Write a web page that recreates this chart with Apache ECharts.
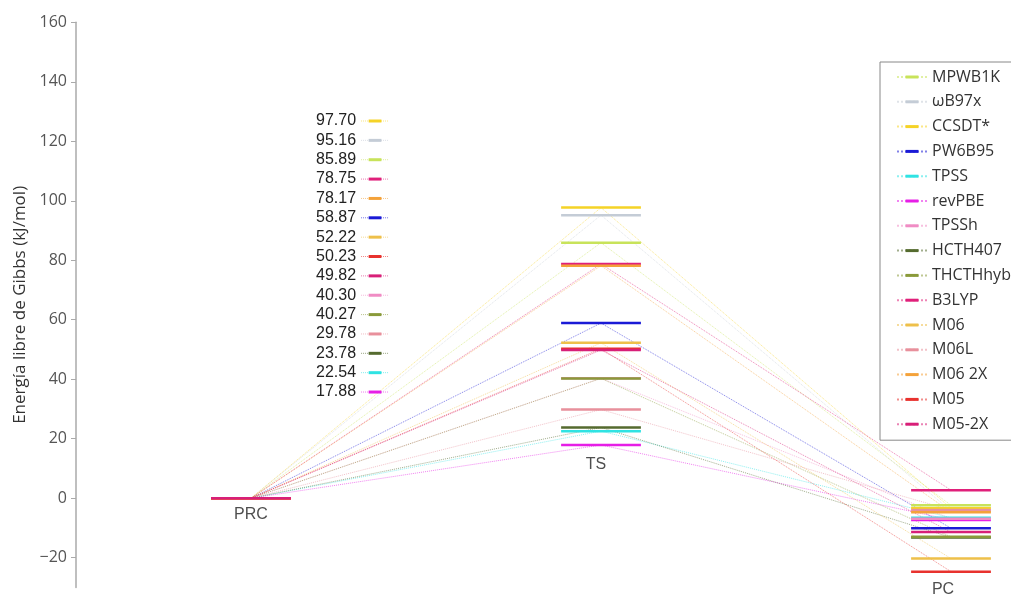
<!DOCTYPE html>
<html><head><meta charset="utf-8">
<script src="https://cdn.jsdelivr.net/npm/echarts@6/dist/echarts.min.js"></script>
<style>html,body{margin:0;padding:0;background:#fff}#c{width:1011px;height:594px}</style>
</head><body><div id="c"></div>
<script>
const states = ['PRC', 'TS', 'PC'];
const methods = ['MPWB1K', 'ωB97x', 'CCSDT*', 'PW6B95', 'TPSS', 'revPBE', 'TPSSh', 'HCTH407', 'THCTHhyb', 'B3LYP', 'M06', 'M06L', 'M06 2X', 'M05', 'M05-2X'];
const colors = ['#c8e35a', '#c4ccd6', '#f5d327', '#1a1ad6', '#2fe3e3', '#e61ee6', '#f08cc4', '#556b2f', '#8a9a3a', '#e0207a', '#eec04a', '#e8909c', '#f4a23a', '#e8322e', '#d81f78'];
const prcValues = [0, 0, 0, 0, 0, 0, 0, 0, 0, 0, 0, 0, 0, 0, 0];
const tsValues = [85.89, 95.16, 97.70, 58.87, 22.54, 17.88, 40.30, 23.78, 40.27, 78.75, 52.22, 29.78, 78.17, 50.23, 49.82];
const pcValues = [-2.4, -4.3, -3.4, -10.1, -6.6, -7.3, -6.9, -13.2, -13.0, 2.7, -20.3, -4.0, -4.7, -24.7, -11.4];
const yTicks = [-20, 0, 20, 40, 60, 80, 100, 120, 140, 160];
const yAxisName = 'Energía libre de Gibbs (kJ/mol)';

const half = 0.114;
const barIcon = 'path://M0,0M12,12M0,4.6H12V7.4H0Z';
const series = [];
methods.forEach((m, i) => {
  series.push({
    name: m, type: 'line', z: 1, silent: true,
    data: [[0, prcValues[i]], [1, tsValues[i]], [2, pcValues[i]]],
    lineStyle: { color: colors[i], width: 1, type: 'dotted', opacity: 0.55 },
    itemStyle: { color: colors[i] },
    symbol: barIcon, showSymbol: false
  });
});
methods.forEach((m, i) => {
  const lv = [prcValues[i], tsValues[i], pcValues[i]];
  const d = [];
  lv.forEach((v, k) => {
    if (k > 0) d.push([k - 0.5, null]);
    d.push([k - half, v], [k + half, v]);
  });
  series.push({
    name: tsValues[i].toFixed(2), type: 'line', z: 2, silent: true,
    data: d, connectNulls: false,
    lineStyle: { color: colors[i], width: 2.5 },
    itemStyle: { color: colors[i] },
    symbol: barIcon, showSymbol: false
  });
});
const levelMins = [Math.min(...prcValues), Math.min(...tsValues), Math.min(...pcValues)];
const labelOffsets = [[0, 2], [-5, 6], [-8, 4]];
series.push({
  type: 'scatter', symbolSize: 0, silent: true, z: 3,
  data: levelMins.map((v, k) => ({ value: [k, v], label: { offset: labelOffsets[k] } })),
  label: {
    show: true, position: 'bottom', distance: 6,
    formatter: p => states[p.dataIndex],
    fontSize: 16, color: '#222', fontFamily: 'Liberation Sans'
  }
});

const order = tsValues.map((v, i) => i).sort((a, b) => tsValues[b] - tsValues[a]);

const chart = echarts.init(document.getElementById('c'));
chart.setOption({
  animation: false,
  backgroundColor: '#fff',
  grid: { left: 76, right: 7.5, top: 22.3, bottom: 6.6 },
  xAxis: { type: 'value', min: -0.5, max: 2.15, show: false },
  yAxis: {
    type: 'value', min: -30, max: 160,
    name: yAxisName, nameLocation: 'middle', nameGap: 47,
    nameTextStyle: { fontSize: 17, color: '#333', fontFamily: 'Open Sans' },
    axisLine: { show: true, onZero: false, lineStyle: { color: '#aaa', width: 1.5 } },
    axisTick: { show: true, length: 5, customValues: yTicks, lineStyle: { color: '#aaa' } },
    axisLabel: {
      customValues: yTicks, fontSize: 16, color: '#555', fontFamily: 'Open Sans', margin: 9,
      formatter: v => String(v).replace('-', '\u2212')
    },
    splitLine: { show: false }
  },
  legend: [{
    data: methods, orient: 'vertical', left: 880, top: 62,
    padding: [7, 40, 8, 16], itemWidth: 30, itemHeight: 16, itemGap: 8.8,
    borderColor: '#888', borderWidth: 1,
    textStyle: { fontSize: 16, color: '#333', fontFamily: 'Open Sans' }
  }, {
    data: order.map(i => tsValues[i].toFixed(2)), orient: 'vertical', left: 316, top: 113,
    padding: 0, itemWidth: 28, itemHeight: 16, itemGap: 3.36, align: 'right',
    lineStyle: { type: 'dotted', width: 1, opacity: 0.6 },
    textStyle: { fontSize: 16, color: '#222', fontFamily: 'Liberation Sans' }
  }],
  series: series
});
</script></body></html>
